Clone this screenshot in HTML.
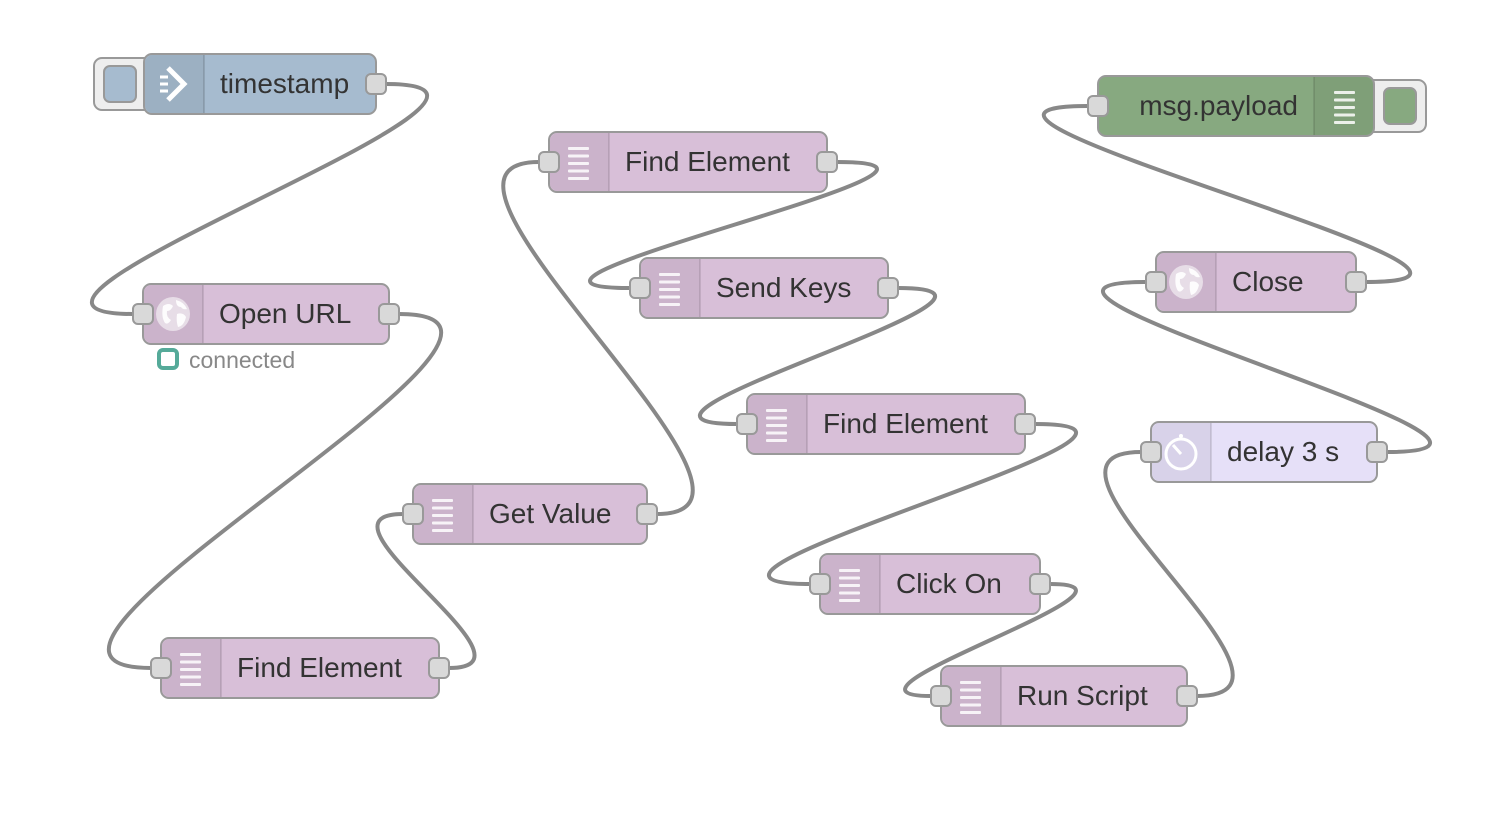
<!DOCTYPE html>
<html><head><meta charset="utf-8"><style>
html,body{margin:0;padding:0;background:#fff;}
svg{display:block;}
text{font-family:"Liberation Sans",sans-serif;font-size:28px;fill:#333;}
</style></head><body>
<svg width="1498" height="832" viewBox="0 0 1498 832" xmlns="http://www.w3.org/2000/svg">
<defs>
<g id="lines"><g fill="#fff" opacity="0.85">
<rect x="19" y="15" width="21" height="3" rx="1"/><rect x="19" y="22.5" width="21" height="3" rx="1"/><rect x="19" y="30" width="21" height="3" rx="1"/><rect x="19" y="37.5" width="21" height="3" rx="1"/><rect x="19" y="45" width="21" height="3" rx="1"/></g></g>
<g id="globe"><circle cx="30" cy="30" r="17" fill="#fff" opacity="0.55"/><path d="M20 22 q6 -4 10 0 q-2 5 -6 5 q-1 6 4 9 q-3 5 -6 3 q-4 -6 -2 -17z M33 16 q8 2 11 9 q-4 1 -6 -2 q-5 0 -5 -7z M34 30 q6 -2 9 3 q-2 9 -8 10 q-2 -6 -1 -13z" fill="#fff" opacity="0.9"/></g>
<path id="iconL" d="M60 1 H9 A8 8 0 0 0 1 9 V51 A8 8 0 0 0 9 59 H60 Z" fill="rgba(0,0,0,0.06)"/>
<g id="port"><rect x="-10" y="-10" width="20" height="20" rx="5" fill="#d9d9d9" stroke="#999" stroke-width="2"/></g>
</defs>

<g fill="none" stroke="#888" stroke-width="4">
<path d="M386 84 C596 84, -77 314, 133 314"/>
<path d="M399 314 C612 314, -62 668, 151 668"/>
<path d="M449 668 C553 668, 299 514, 403 514"/>
<path d="M657 514 C817 514, 379 162, 539 162"/>
<path d="M837 162 C1033 162, 434 288, 630 288"/>
<path d="M898 288 C1073 288, 562 424, 737 424"/>
<path d="M1035 424 C1239 424, 606 584, 810 584"/>
<path d="M1050 584 C1174 584, 807 696, 931 696"/>
<path d="M1197 696 C1340 696, 998 452, 1141 452"/>
<path d="M1387 452 C1602 452, 931 282, 1146 282"/>
<path d="M1366 282 C1593 282, 861 106, 1088 106"/>
</g>

<rect x="94" y="58" width="60" height="52" rx="8" fill="#eee" stroke="#999" stroke-width="2"/>
<rect x="104" y="66" width="32" height="36" rx="6" fill="#a6bbcf" stroke="#999" stroke-width="2"/>
<g transform="translate(144,54)">
<rect x="0" y="0" width="232" height="60" rx="8" fill="#a6bbcf" stroke="#999" stroke-width="2"/>
<use href="#iconL"/><line x1="60" y1="1" x2="60" y2="59" stroke="rgba(0,0,0,0.12)" stroke-width="2"/>
<path d="M16 23 h8 M16 30 h8 M16 37 h8" stroke="#fff" stroke-width="3"/>
<path d="M24 14 L40 30 L24 46" fill="none" stroke="#fff" stroke-width="5"/>
<text x="76" y="39">timestamp</text>
<use href="#port" x="232" y="30"/>
</g>

<g transform="translate(143,284)">
<rect width="246" height="60" rx="8" fill="#d8bfd8" stroke="#999" stroke-width="2"/>
<use href="#iconL"/><line x1="60" y1="1" x2="60" y2="59" stroke="rgba(0,0,0,0.1)" stroke-width="2"/>
<use href="#globe"/>
<text x="76" y="39">Open URL</text>
<use href="#port" x="0" y="30"/><use href="#port" x="246" y="30"/>
</g>
<rect x="159" y="350" width="18" height="18" rx="4" fill="#fff" stroke="#5a9" stroke-width="4"/>
<text x="189" y="368" style="font-size:23px;fill:#888">connected</text>

<g transform="translate(161,638)">
<rect width="278" height="60" rx="8" fill="#d8bfd8" stroke="#999" stroke-width="2"/>
<use href="#iconL"/><line x1="60" y1="1" x2="60" y2="59" stroke="rgba(0,0,0,0.1)" stroke-width="2"/>
<use href="#lines"/>
<text x="76" y="39">Find Element</text>
<use href="#port" x="0" y="30"/><use href="#port" x="278" y="30"/>
</g>

<g transform="translate(413,484)">
<rect width="234" height="60" rx="8" fill="#d8bfd8" stroke="#999" stroke-width="2"/>
<use href="#iconL"/><line x1="60" y1="1" x2="60" y2="59" stroke="rgba(0,0,0,0.1)" stroke-width="2"/>
<use href="#lines"/>
<text x="76" y="39">Get Value</text>
<use href="#port" x="0" y="30"/><use href="#port" x="234" y="30"/>
</g>

<g transform="translate(549,132)">
<rect width="278" height="60" rx="8" fill="#d8bfd8" stroke="#999" stroke-width="2"/>
<use href="#iconL"/><line x1="60" y1="1" x2="60" y2="59" stroke="rgba(0,0,0,0.1)" stroke-width="2"/>
<use href="#lines"/>
<text x="76" y="39">Find Element</text>
<use href="#port" x="0" y="30"/><use href="#port" x="278" y="30"/>
</g>

<g transform="translate(640,258)">
<rect width="248" height="60" rx="8" fill="#d8bfd8" stroke="#999" stroke-width="2"/>
<use href="#iconL"/><line x1="60" y1="1" x2="60" y2="59" stroke="rgba(0,0,0,0.1)" stroke-width="2"/>
<use href="#lines"/>
<text x="76" y="39">Send Keys</text>
<use href="#port" x="0" y="30"/><use href="#port" x="248" y="30"/>
</g>

<g transform="translate(747,394)">
<rect width="278" height="60" rx="8" fill="#d8bfd8" stroke="#999" stroke-width="2"/>
<use href="#iconL"/><line x1="60" y1="1" x2="60" y2="59" stroke="rgba(0,0,0,0.1)" stroke-width="2"/>
<use href="#lines"/>
<text x="76" y="39">Find Element</text>
<use href="#port" x="0" y="30"/><use href="#port" x="278" y="30"/>
</g>

<g transform="translate(820,554)">
<rect width="220" height="60" rx="8" fill="#d8bfd8" stroke="#999" stroke-width="2"/>
<use href="#iconL"/><line x1="60" y1="1" x2="60" y2="59" stroke="rgba(0,0,0,0.1)" stroke-width="2"/>
<use href="#lines"/>
<text x="76" y="39">Click On</text>
<use href="#port" x="0" y="30"/><use href="#port" x="220" y="30"/>
</g>

<g transform="translate(941,666)">
<rect width="246" height="60" rx="8" fill="#d8bfd8" stroke="#999" stroke-width="2"/>
<use href="#iconL"/><line x1="60" y1="1" x2="60" y2="59" stroke="rgba(0,0,0,0.1)" stroke-width="2"/>
<use href="#lines"/>
<text x="76" y="39">Run Script</text>
<use href="#port" x="0" y="30"/><use href="#port" x="246" y="30"/>
</g>

<g transform="translate(1151,422)">
<rect width="226" height="60" rx="8" fill="#e6e0f8" stroke="#999" stroke-width="2"/>
<use href="#iconL"/><line x1="60" y1="1" x2="60" y2="59" stroke="rgba(0,0,0,0.1)" stroke-width="2"/>
<circle cx="30" cy="32" r="15" fill="none" stroke="#fff" stroke-width="3"/>
<line x1="30" y1="32" x2="22" y2="23" stroke="#fff" stroke-width="3"/>
<circle cx="30" cy="14" r="2" fill="#fff"/>
<text x="76" y="39">delay 3 s</text>
<use href="#port" x="0" y="30"/><use href="#port" x="226" y="30"/>
</g>

<g transform="translate(1156,252)">
<rect width="200" height="60" rx="8" fill="#d8bfd8" stroke="#999" stroke-width="2"/>
<use href="#iconL"/><line x1="60" y1="1" x2="60" y2="59" stroke="rgba(0,0,0,0.1)" stroke-width="2"/>
<use href="#globe"/>
<text x="76" y="39">Close</text>
<use href="#port" x="0" y="30"/><use href="#port" x="200" y="30"/>
</g>

<rect x="1364" y="80" width="62" height="52" rx="8" fill="#eee" stroke="#999" stroke-width="2"/>
<rect x="1384" y="88" width="32" height="36" rx="6" fill="#87a980" stroke="#999" stroke-width="2"/>
<g transform="translate(1098,76)">
<rect width="276" height="60" rx="8" fill="#87a980" stroke="#999" stroke-width="2"/>
<path d="M216 1 H267 A8 8 0 0 1 275 9 V51 A8 8 0 0 1 267 59 H216 Z" fill="rgba(0,0,0,0.06)"/>
<line x1="216" y1="1" x2="216" y2="59" stroke="rgba(0,0,0,0.1)" stroke-width="2"/>
<use href="#lines" x="217"/>
<text x="200" y="39" text-anchor="end">msg.payload</text>
<use href="#port" x="0" y="30"/>
</g>
</svg>
</body></html>
